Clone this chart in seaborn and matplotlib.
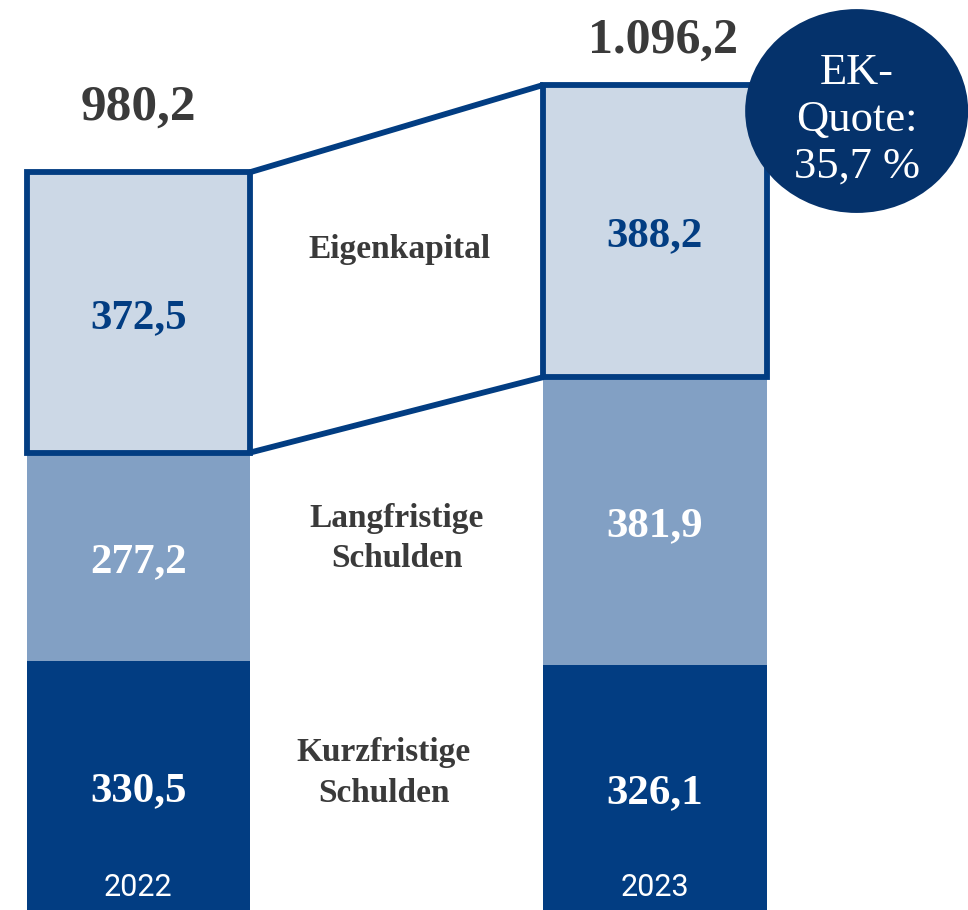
import numpy as np
import pandas as pd
import seaborn as sns
import matplotlib.pyplot as plt
from matplotlib.patches import Ellipse

# -----------------------------
# Data
# -----------------------------
years = ["2022", "2023"]
kurzfristig = [330.5, 326.1]
langfristig = [277.2, 381.9]
eigenkapital = [372.5, 388.2]
totals = [980.2, 1096.2]
ek_quote = "35,7 %"

seg_names = ["Eigenkapital", "Langfristige\nSchulden", "Kurzfristige\nSchulden"]

def fmt(v):
    s = f"{v:,.1f}"
    return s.replace(",", "X").replace(".", ",").replace("X", ".")

# colours
c_dark = "#023D82"
c_mid = "#82A0C4"
c_light = "#CCD8E6"
c_circle = "#05326B"
c_text = "#3A3A3A"

df = pd.DataFrame({
    "year": years,
    "kurz": kurzfristig,
    "lang": langfristig,
    "ek": eigenkapital,
})
df["cum_lang"] = df["kurz"] + df["lang"]
df["cum_ek"] = df["cum_lang"] + df["ek"]

# -----------------------------
# Plot
# -----------------------------
sns.set_style("white")
plt.rcParams["font.family"] = ["Liberation Serif", "DejaVu Serif"]

fig = plt.figure(figsize=(9.68, 9.10), dpi=100)
ax = fig.add_axes([0, 0, 1, 1])

w = 0.432
sns.barplot(data=df, x="year", y="cum_ek", color=c_light, width=w,
            saturation=1, ax=ax, linewidth=0)
sns.barplot(data=df, x="year", y="cum_lang", color=c_mid, width=w,
            saturation=1, ax=ax, linewidth=0)
sns.barplot(data=df, x="year", y="kurz", color=c_dark, width=w,
            saturation=1, ax=ax, linewidth=0)

xpos = np.arange(len(years))

# outline around Eigenkapital
ax.bar(xpos, df["ek"], bottom=df["cum_lang"], width=w, fill=False,
       edgecolor=c_dark, linewidth=4.2, zorder=5)

# connecting lines
x0 = xpos[0] + w / 2
x1 = xpos[1] - w / 2
ax.plot([x0, x1], [df["cum_ek"][0], df["cum_ek"][1]], color=c_dark, lw=4.2,
        solid_capstyle="butt", zorder=5)
ax.plot([x0, x1], [df["cum_lang"][0], df["cum_lang"][1]], color=c_dark, lw=4.2,
        solid_capstyle="butt", zorder=5)

# segment values
lab_kw = dict(textcoords="offset points", xytext=(0, -4), ha="center",
              va="center", fontsize=31, fontweight="bold", zorder=6)
for i in range(len(years)):
    ax.annotate(fmt(kurzfristig[i]), (xpos[i], df["kurz"][i] / 2),
                color="white", **lab_kw)
    ax.annotate(fmt(langfristig[i]), (xpos[i], df["kurz"][i] + langfristig[i] / 2),
                color="white", **lab_kw)
    ax.annotate(fmt(eigenkapital[i]), (xpos[i], df["cum_lang"][i] + eigenkapital[i] / 2),
                color=c_dark, **lab_kw)
    ax.text(xpos[i], 11, years[i], ha="center", va="bottom", color="white",
            fontsize=22, family="Roboto", zorder=6)

# totals
offsets = [30, 15]
sizes = [37, 36]
for i in range(len(years)):
    ax.annotate(fmt(totals[i]), (xpos[i], totals[i]), xytext=(i * 6, offsets[i]),
                textcoords="offset points", ha="center", va="bottom",
                fontsize=sizes[i], fontweight="bold", color=c_text)

# segment names in the middle
mid = 0.5
ax.text(mid + 0.005, 878, seg_names[0], ha="center", va="center",
        fontsize=24, fontweight="bold", color=c_text)
ax.text(mid, np.mean(df["kurz"]) + 165, seg_names[1], ha="center", va="center",
        fontsize=24, fontweight="bold", color=c_text, linespacing=1.4)
ax.text(mid - 0.025, 182, seg_names[2], ha="center", va="center",
        fontsize=24, fontweight="bold", color=c_text, linespacing=1.4)

# EK-Quote bubble
ell = Ellipse((0.885, 0.878), 0.2304, 0.224, transform=ax.transAxes,
              facecolor=c_circle, edgecolor="none", zorder=7)
ax.add_patch(ell)
ax.text(0.885, 0.868, "EK-\nQuote:\n" + ek_quote, transform=ax.transAxes,
        ha="center", va="center", color="white", fontsize=32,
        linespacing=1.22, zorder=8)

ax.set_xlim(-0.268, 1.606)
ax.set_ylim(0, 1209)
ax.set_axis_off()

fig.savefig("out.png", dpi=100)
